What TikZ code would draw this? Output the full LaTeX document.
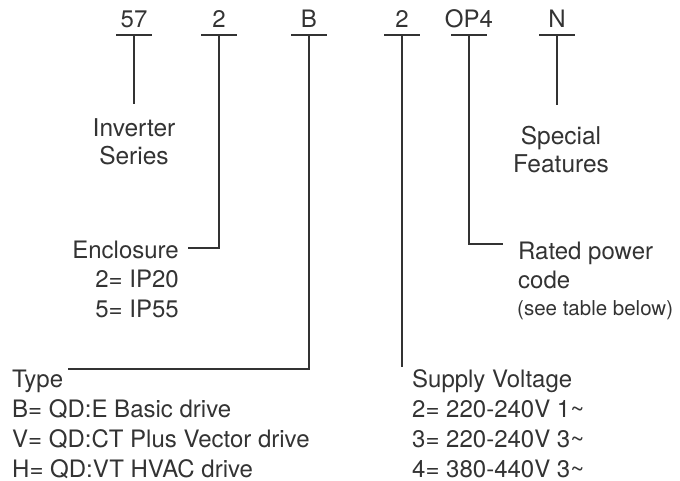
\documentclass[tikz,border=0pt]{standalone}
\usepackage{fontspec}
\setmainfont{TeX Gyre Heros}
\usetikzlibrary{positioning}
\definecolor{inkgray}{HTML}{333333}

\begin{document}
\begin{tikzpicture}[x=1pt, y=-1pt,
      every node/.style = {inner sep=0pt, text=inkgray},
      codechar/.style   = {anchor=base, font=\fontsize{24}{29}\selectfont},
      caption/.style    = {align=left, font=\fontsize{24}{30}\selectfont},
      tight/.style      = {align=center, anchor=base, font=\fontsize{24.5}{28}\selectfont},
      smallnote/.style  = {anchor=base west, font=\fontsize{20.5}{24}\selectfont},
      lead/.style       = {draw=inkgray, line width=2.2pt}
    ]
    \useasboundingbox (0,0) rectangle (680,481);
    % code characters with their bars
    \foreach \name/\x/\txt in {ser/134/57, enc/219/2, typ/309/B, vol/402/2, pow/469/OP4, feat/557/N} {
      \node[codechar] (\name) at (\x,28) {\txt};
      \coordinate (\name-bar) at (\x,35);
      \draw[lead] ([xshift=-18pt]\name-bar) -- ([xshift=18pt]\name-bar);
    }
    % captions (base anchor sits on the last line)
    \node[tight] (serlab) at (134,165) {Inverter\\Series};
    \node[tight] (featlab) at (561,173) {Special\\Features};
    \node[caption, align=right, anchor=base east, font=\fontsize{24}{29.5}\selectfont] (enclab) at (179,317) {Enclosure\\2= IP20\\5= IP55};
    \node[caption, anchor=base west, font=\fontsize{24}{29}\selectfont] (powlab) at (518,288) {Rated power\\code};
    \node[smallnote] (note) at (517,315) {(see table below)};
    \node[caption, anchor=base west] (typlab) at (12,477)
      {Type\\B= QD:E Basic drive\\V= QD:CT Plus Vector drive\\H= QD:VT HVAC drive};
    \node[caption, anchor=base west] (vollab) at (412,477)
      {Supply Voltage\\2= 220-240V 1\textasciitilde\\3= 220-240V 3\textasciitilde\\4= 380-440V 3\textasciitilde};
    % free ends of the leads
    \coordinate (ser-end) at (134,104);
    \coordinate (enc-end) at (188,248);
    \coordinate (typ-end) at (68,369);
    \coordinate (vol-end) at (402,367);
    \coordinate (pow-end) at (503,244);
    \coordinate (feat-end) at (557,105);
    % leads
    \draw[lead] (ser-bar) -- (ser-end);
    \draw[lead] (enc-bar) |- (enc-end);
    \draw[lead] (typ-bar) |- (typ-end);
    \draw[lead] (vol-bar) -- (vol-end);
    \draw[lead] (pow-bar) |- (pow-end);
    \draw[lead] (feat-bar) -- (feat-end);
\end{tikzpicture}
\end{document}
